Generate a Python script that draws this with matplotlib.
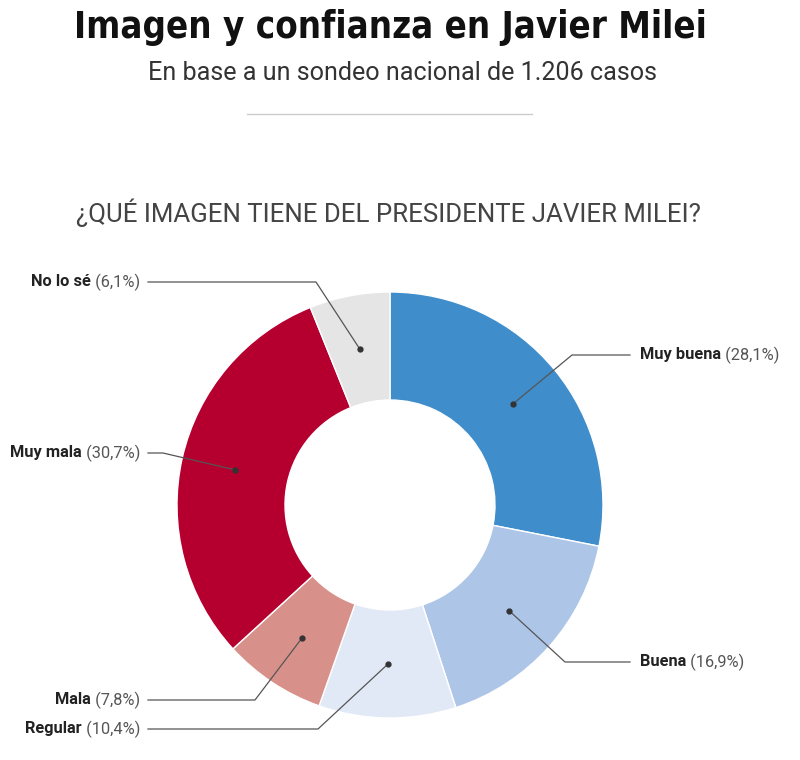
import numpy as np
import matplotlib
matplotlib.use("Agg")
import matplotlib.pyplot as plt

# data
labels = ["Muy buena", "Buena", "Regular", "Mala", "Muy mala", "No lo sé"]
values = [28.1, 16.9, 10.4, 7.8, 30.7, 6.1]
colors = ["#3f8dca", "#adc5e7", "#e2e9f6", "#d8918a", "#b5002f", "#e5e5e5"]

# label layout (pixel coords of the picture, y from top)
label_side = ["right", "right", "left", "left", "left", "left"]
label_y = [355, 662, 729, 700, 453, 282]
elbow_x = [572, 565, 318, 255, 163, 316]

W, H = 800, 760
cx, cy = 390, 505
R, ring = 213, 108


def fy(y):
    return H - y


fig = plt.figure(figsize=(W / 100, H / 100), dpi=100)
ax = fig.add_axes([0, 0, 1, 1])

wedges, _ = ax.pie(values, colors=colors, startangle=90, counterclock=False,
                   radius=R, center=(cx, fy(cy)),
                   wedgeprops=dict(width=ring, edgecolor="white", linewidth=1))
ax.set_xlim(0, W)
ax.set_ylim(0, H)
ax.set_aspect("equal")
ax.axis("off")

rmid = R - ring / 2
fs = 11.8
for i, w in enumerate(wedges):
    ang = np.deg2rad((w.theta1 + w.theta2) / 2)
    dx = cx + rmid * np.cos(ang)
    dy = fy(cy) + rmid * np.sin(ang)
    ly = fy(label_y[i])
    if label_side[i] == "right":
        xs = [dx, elbow_x[i], 630]
        tx, ha = 640, "left"
    else:
        xs = [dx, elbow_x[i], 148]
        tx, ha = 140, "right"
    ax.plot(xs, [dy, ly, ly], color="#555555", lw=0.9, zorder=5)
    ax.plot(dx, dy, "o", color="#333333", ms=3.5, zorder=6)
    pct = f" ({values[i]:.1f}%)".replace(".", ",")
    if ha == "left":
        t = ax.text(tx, ly, labels[i], ha="left", va="center", fontsize=fs,
                    fontweight="bold", color="#222222", family="Roboto")
        ax.annotate(pct, xycoords=t, xy=(1, 0.5), va="center", ha="left",
                    fontsize=fs, color="#555555", family="Roboto")
    else:
        t = ax.text(tx, ly, pct, ha="right", va="center", fontsize=fs,
                    color="#555555", family="Roboto")
        ax.annotate(labels[i], xycoords=t, xy=(0, 0.5), va="center", ha="right",
                    fontsize=fs, fontweight="bold", color="#222222", family="Roboto")

# header texts
ax.text(390, fy(27), "Imagen y confianza en Javier Milei", ha="center", va="center",
        fontsize=26.3, fontweight="heavy", fontstretch="condensed", color="#111111",
        family="DejaVu Sans")
ax.text(403, fy(73), "En base a un sondeo nacional de 1.206 casos", ha="center", va="center",
        fontsize=18.1, color="#333333", family="Roboto")
ax.plot([247, 532], [fy(114), fy(114)], color="#cccccc", lw=1)
ax.text(388, fy(213), "¿QUÉ IMAGEN TIENE DEL PRESIDENTE JAVIER MILEI?", ha="center",
        va="center", fontsize=18.6, color="#444444", family="Roboto")

fig.savefig("out.png", dpi=100)
